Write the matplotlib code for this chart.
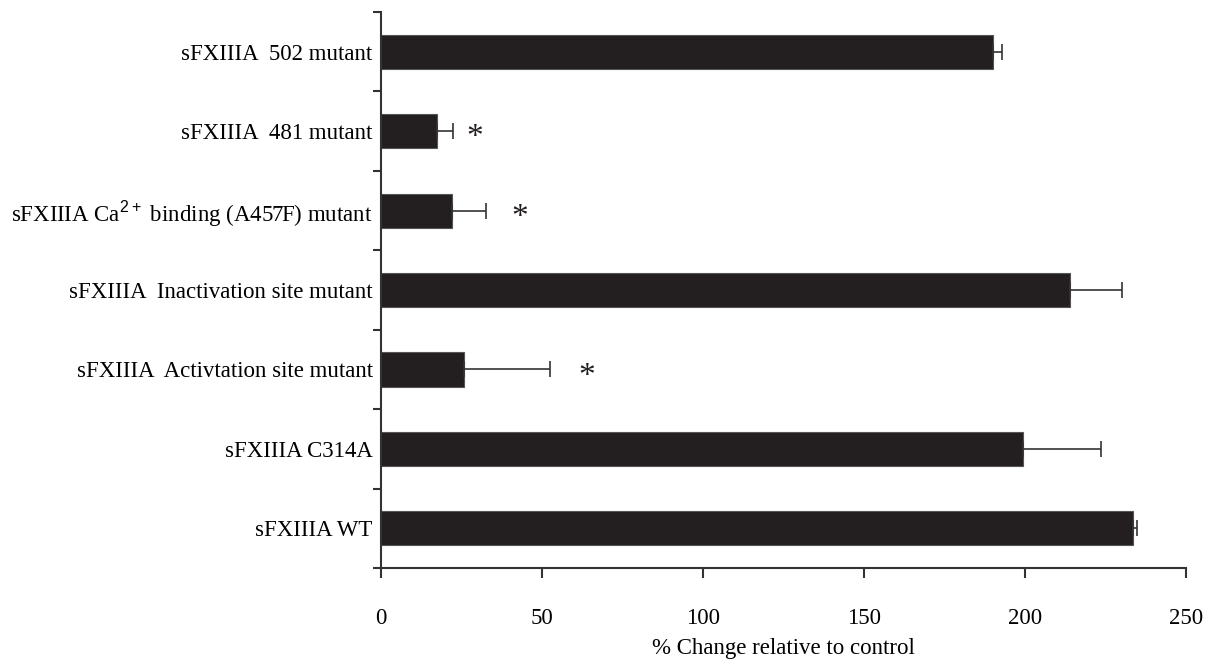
import matplotlib
matplotlib.use("Agg")
import matplotlib.pyplot as plt
import numpy as np

plt.rcParams['font.family'] = ['Liberation Serif', 'DejaVu Serif']
plt.rcParams['mathtext.fontset'] = 'custom'
plt.rcParams['mathtext.rm'] = 'Liberation Serif'
plt.rcParams['mathtext.sf'] = 'Liberation Sans'

categories = ["sFXIIIA WT",
              "sFXIIIA C314A",
              "sFXIIIA  Activtation site mutant",
              "sFXIIIA  Inactivation site mutant",
              "sFXIIIA Ca$^{\\mathsf{2+}}$ binding (A457F) mutant",
              "sFXIIIA  481 mutant",
              "sFXIIIA  502 mutant"]
values = [233.4, 199.4, 25.9, 214.0, 22.2, 17.3, 190.0]
errors = [1.3, 24.1, 26.6, 16.0, 10.4, 5.0, 3.0]
significant = [False, False, True, False, True, True, False]
star_x = [None, None, 64, None, 43, 29, None]
xticks = [0, 50, 100, 150, 200, 250]

fig = plt.figure(figsize=(12.11, 6.61), dpi=100)
ax = fig.add_axes([0.3146, 0.1407, 0.9794 - 0.3146, 0.9818 - 0.1407])

y = np.arange(len(categories))
ax.barh(y, values, height=0.43, color='#231f20', edgecolor='#555555', linewidth=0.8,
        xerr=[np.zeros(len(errors)), errors],
        error_kw=dict(ecolor='#333333', elinewidth=1.2, capsize=6, capthick=1.2))

for yi, sig, sx in zip(y, significant, star_x):
    if sig:
        ax.annotate("*", xy=(sx, yi), xytext=(0, -5), textcoords='offset points',
                    fontsize=24, ha='center', va='center', color='#231f20')

ax.set_xlim(0, 250)
ax.set_ylim(-0.5, len(categories) - 0.5)
ax.set_xticks(xticks)
ax.set_xticklabels([str(t) for t in xticks], fontsize=16.5)
ax.set_yticks(y)
ax.set_yticklabels(categories, fontsize=16.5)
ax.set_yticks(np.arange(-0.5, len(categories), 1.0), minor=True)
ax.tick_params(axis='y', which='major', length=0, pad=6)
ax.tick_params(axis='y', which='minor', length=6, width=1.5, direction='out', color='#333333')
ax.tick_params(axis='x', which='major', length=7, width=1.5, direction='out', color='#333333', pad=22)
for s in ['top', 'right']:
    ax.spines[s].set_visible(False)
for s in ['left', 'bottom']:
    ax.spines[s].set_linewidth(1.5)
    ax.spines[s].set_color('#333333')
ax.set_xlabel("% Change relative to control", fontsize=16.5, labelpad=6)

fig.savefig("out.png", dpi=100)
